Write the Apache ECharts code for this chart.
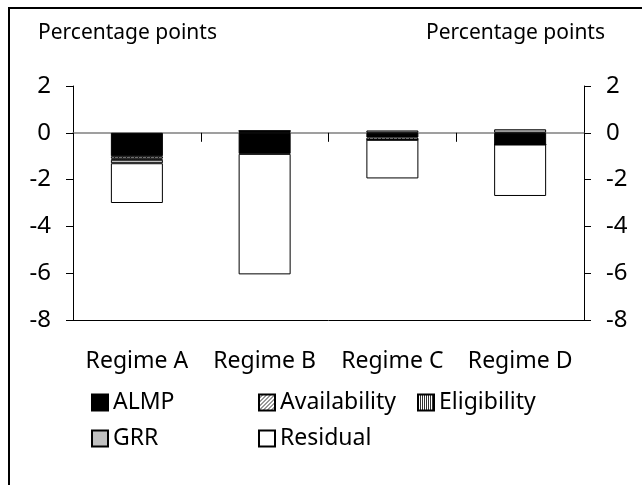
<!DOCTYPE html>
<html>
<head>
<meta charset="utf-8">
<script src="https://cdn.jsdelivr.net/npm/echarts@6/dist/echarts.min.js"></script>
<style>
  html, body { margin: 0; padding: 0; background: #fff; }
  #container { width: 642px; height: 485px; }
</style>
</head>
<body>
<div id="container"></div>
<script>
var categories = ['Regime A', 'Regime B', 'Regime C', 'Regime D'];
var almp = [-1.0, -0.9, -0.2, -0.5];
var availability = [-0.1, 0.05, -0.1, 0];
var eligibility = [-0.05, 0.03, 0, 0];
var grr = [-0.15, 0, 0.1, 0.15];
var residual = [-1.7, -5.15, -1.65, -2.2];
var yTicks = { min: -8, max: 2, interval: 2 };

var FONT = '"Noto Sans", "Open Sans", sans-serif';

// hatch patterns for the two striped series
function makePattern( kind ) {
	var c = document.createElement( 'canvas' );
	c.width = 4;
	c.height = 4;
	var ctx = c.getContext( '2d' );
	ctx.fillStyle = '#fff';
	ctx.fillRect( 0, 0, 4, 4 );
	ctx.strokeStyle = '#333';
	ctx.lineWidth = 1;
	ctx.beginPath();
	if ( kind === 'diag' ) {
		ctx.moveTo( 0, 4 ); ctx.lineTo( 4, 0 );
		ctx.moveTo( -1, 1 ); ctx.lineTo( 1, -1 );
		ctx.moveTo( 3, 5 ); ctx.lineTo( 5, 3 );
	} else {
		ctx.moveTo( 0.5, 0 ); ctx.lineTo( 0.5, 4 );
		ctx.moveTo( 2.5, 0 ); ctx.lineTo( 2.5, 4 );
	}
	ctx.stroke();
	return { image: c, repeat: 'repeat' };
}

function barSeries( name, data, color ) {
	return {
		name: name,
		type: 'bar',
		stack: 'total',
		barWidth: 52,
		data: data,
		itemStyle: { color: color, borderColor: '#000', borderWidth: 1 }
	};
}

function legendItem( name, left, top ) {
	return {
		data: [ name ],
		left: left,
		top: top,
		icon: 'rect',
		itemWidth: 16,
		itemHeight: 16,
		itemGap: 6,
		selectedMode: false,
		textStyle: { fontFamily: FONT, fontSize: 23, color: '#000', padding: [ 0, 0, 0, 0 ] }
	};
}

var yAxisCommon = {
	type: 'value',
	min: yTicks.min,
	max: yTicks.max,
	interval: yTicks.interval,
	axisLine: { show: true, lineStyle: { color: '#000', width: 1 } },
	axisTick: { show: true, length: 7, lineStyle: { color: '#000' } },
	splitLine: { show: false },
	axisLabel: { fontFamily: FONT, fontSize: 24, color: '#000', margin: 22 }
};

var myChart = echarts.init( document.getElementById( 'container' ), null, { renderer: 'canvas' } );
var option = {
	animation: false,
	backgroundColor: '#fff',
	title: [
		{ text: 'Percentage points', left: 33, top: 18, textStyle: { fontFamily: FONT, fontSize: 21, fontWeight: 'normal', color: '#000' } },
		{ text: 'Percentage points', right: 32, top: 18, textStyle: { fontFamily: FONT, fontSize: 21, fontWeight: 'normal', color: '#000' } }
	],
	graphic: [
		{
			type: 'polyline',
			shape: { points: [ [ 9, 485 ], [ 9, 8 ], [ 642, 8 ] ] },
			style: { stroke: '#000', lineWidth: 2, fill: null }
		}
	],
	legend: [
		legendItem( 'ALMP', 86, 386 ),
		legendItem( 'Availability', 253, 386 ),
		legendItem( 'Eligibility', 412, 386 ),
		legendItem( 'GRR', 86, 422 ),
		legendItem( 'Residual', 253, 422 )
	],
	grid: { left: 73, right: 58, top: 86, bottom: 165 },
	xAxis: [
		{
			type: 'category',
			data: categories,
			position: 'bottom',
			axisLine: { onZero: false, lineStyle: { color: '#000', width: 1 } },
			axisTick: { show: false },
			axisLabel: { interval: 0, fontFamily: FONT, fontSize: 23, color: '#000', margin: 30 }
		},
		{
			type: 'category',
			data: categories,
			position: 'bottom',
			axisLine: { onZero: true, lineStyle: { color: '#808080', width: 1.5 } },
			axisTick: { show: true, length: 9, lineStyle: { color: '#000' } },
			axisLabel: { show: false }
		}
	],
	yAxis: [
		echarts.util.merge( { position: 'left' }, yAxisCommon, true ),
		echarts.util.merge( { position: 'right' }, yAxisCommon, true )
	],
	series: [
		barSeries( 'ALMP', almp, '#000' ),
		barSeries( 'Availability', availability, makePattern( 'diag' ) ),
		barSeries( 'Eligibility', eligibility, makePattern( 'vert' ) ),
		barSeries( 'GRR', grr, '#c0c0c0' ),
		barSeries( 'Residual', residual, '#fff' )
	]
};
myChart.setOption( option );
</script>
</body>
</html>
